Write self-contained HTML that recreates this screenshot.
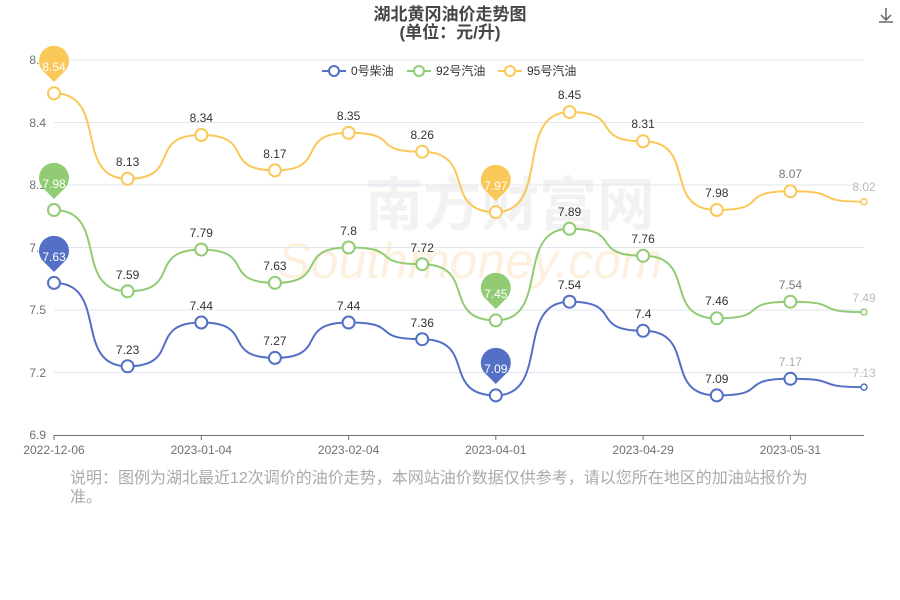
<!DOCTYPE html>
<html><head><meta charset="utf-8"><style>
body{margin:0;background:#fff;width:900px;height:600px;overflow:hidden;font-family:"Liberation Sans","Noto Sans CJK SC",sans-serif}
.note{position:absolute;left:70px;top:469px;width:750px;font-size:16px;line-height:19px;color:#aaa}
</style></head><body>
<svg width="900" height="600" style="position:absolute;left:0;top:0" font-family="Liberation Sans, Noto Sans CJK SC, sans-serif">
<text x="450" y="20" text-anchor="middle" font-size="17" font-weight="bold" fill="#464646">湖北黄冈油价走势图</text>
<text x="450" y="38" text-anchor="middle" font-size="17" font-weight="bold" fill="#464646">(单位：元/升)</text>
<g stroke="#666" fill="none" stroke-width="1.5"><path d="M886 8v12M881 15l5 5 5-5M879 22h14"/></g>
<text x="510" y="225" text-anchor="middle" font-size="58" fill="#f2f2f2" font-weight="bold">南方财富网</text>
<text x="470" y="278" text-anchor="middle" font-size="50" fill="#fdf0de" font-style="italic">Southmoney.com</text>
<g stroke="#e0e6f1" stroke-width="1">
<line x1="54" x2="864" y1="60" y2="60"/><line x1="54" x2="864" y1="122.5" y2="122.5"/><line x1="54" x2="864" y1="185" y2="185"/><line x1="54" x2="864" y1="247.5" y2="247.5"/><line x1="54" x2="864" y1="310" y2="310"/><line x1="54" x2="864" y1="372.5" y2="372.5"/>
</g>
<line x1="54" x2="864" y1="435.5" y2="435.5" stroke="#6e7079"/>
<g stroke="#6e7079"><line x1="54" x2="54" y1="435" y2="440"/><line x1="201.3" x2="201.3" y1="435" y2="440"/><line x1="348.6" x2="348.6" y1="435" y2="440"/><line x1="495.8" x2="495.8" y1="435" y2="440"/><line x1="643.1" x2="643.1" y1="435" y2="440"/><line x1="790.4" x2="790.4" y1="435" y2="440"/></g>
<g font-size="12" fill="#6e7079" text-anchor="end">
<text x="46" y="439">6.9</text><text x="46" y="377">7.2</text><text x="46" y="314">7.5</text><text x="46" y="252">7.8</text><text x="46" y="189">8.1</text><text x="46" y="127">8.4</text><text x="46" y="64">8.7</text></g>
<g font-size="12" fill="#6e7079" text-anchor="middle">
<text x="54" y="454">2022-12-06</text><text x="201.3" y="454">2023-01-04</text><text x="348.6" y="454">2023-02-04</text><text x="495.8" y="454">2023-04-01</text><text x="643.1" y="454">2023-04-29</text><text x="790.4" y="454">2023-05-31</text></g>
<g font-size="12" fill="#333">
<line x1="322" x2="346" y1="71" y2="71" stroke="#5470c6" stroke-width="2"/><circle cx="334" cy="71" r="5" fill="#fff" stroke="#5470c6" stroke-width="2"/><text x="351" y="75">0号柴油</text>
<line x1="407" x2="431" y1="71" y2="71" stroke="#91cc75" stroke-width="2"/><circle cx="419" cy="71" r="5" fill="#fff" stroke="#91cc75" stroke-width="2"/><text x="436" y="75">92号汽油</text>
<line x1="498" x2="522" y1="71" y2="71" stroke="#fac858" stroke-width="2"/><circle cx="510" cy="71" r="5" fill="#fff" stroke="#fac858" stroke-width="2"/><text x="527" y="75">95号汽油</text>
</g>
<g fill="none" stroke-width="2">
<path stroke="#5470c6" d="M54 282.9 C109.2 282.9 72.4 366.3 127.6 366.3 C182.8 366.3 146 322.5 201.3 322.5 C256.5 322.5 219.7 357.9 274.9 357.9 C330.1 357.9 293.3 322.5 348.6 322.5 C403.8 322.5 367 339.2 422.2 339.2 C477.4 339.2 440.6 395.4 495.8 395.4 C551 395.4 514.2 301.7 569.5 301.7 C624.7 301.7 587.9 330.8 643.1 330.8 C698.3 330.8 661.5 395.4 716.8 395.4 C772 395.4 735.2 378.8 790.4 378.8 C845.6 378.8 808.8 387.1 864 387.1"/>
<path stroke="#91cc75" d="M54 210 C109.2 210 72.4 291.3 127.6 291.3 C182.8 291.3 146 249.6 201.3 249.6 C256.5 249.6 219.7 282.9 274.9 282.9 C330.1 282.9 293.3 247.5 348.6 247.5 C403.8 247.5 367 264.2 422.2 264.2 C477.4 264.2 440.6 320.4 495.8 320.4 C551 320.4 514.2 228.8 569.5 228.8 C624.7 228.8 587.9 255.8 643.1 255.8 C698.3 255.8 661.5 318.3 716.8 318.3 C772 318.3 735.2 301.7 790.4 301.7 C845.6 301.7 808.8 312.1 864 312.1"/>
<path stroke="#fac858" d="M54 93.3 C109.2 93.3 72.4 178.8 127.6 178.8 C182.8 178.8 146 135 201.3 135 C256.5 135 219.7 170.4 274.9 170.4 C330.1 170.4 293.3 132.9 348.6 132.9 C403.8 132.9 367 151.7 422.2 151.7 C477.4 151.7 440.6 212.1 495.8 212.1 C551 212.1 514.2 112.1 569.5 112.1 C624.7 112.1 587.9 141.3 643.1 141.3 C698.3 141.3 661.5 210 716.8 210 C772 210 735.2 191.3 790.4 191.3 C845.6 191.3 808.8 201.7 864 201.7"/>
</g>
<g fill="#fff" stroke-width="2">
<g stroke="#5470c6"><circle cx="54" cy="282.9" r="6"/><circle cx="127.6" cy="366.3" r="6"/><circle cx="201.3" cy="322.5" r="6"/><circle cx="274.9" cy="357.9" r="6"/><circle cx="348.6" cy="322.5" r="6"/><circle cx="422.2" cy="339.2" r="6"/><circle cx="495.8" cy="395.4" r="6"/><circle cx="569.5" cy="301.7" r="6"/><circle cx="643.1" cy="330.8" r="6"/><circle cx="716.8" cy="395.4" r="6"/><circle cx="790.4" cy="378.8" r="6"/><circle cx="864" cy="387.1" r="3" stroke-width="1.5"/></g>
<g stroke="#91cc75"><circle cx="54" cy="210" r="6"/><circle cx="127.6" cy="291.3" r="6"/><circle cx="201.3" cy="249.6" r="6"/><circle cx="274.9" cy="282.9" r="6"/><circle cx="348.6" cy="247.5" r="6"/><circle cx="422.2" cy="264.2" r="6"/><circle cx="495.8" cy="320.4" r="6"/><circle cx="569.5" cy="228.8" r="6"/><circle cx="643.1" cy="255.8" r="6"/><circle cx="716.8" cy="318.3" r="6"/><circle cx="790.4" cy="301.7" r="6"/><circle cx="864" cy="312.1" r="3" stroke-width="1.5"/></g>
<g stroke="#fac858"><circle cx="54" cy="93.3" r="6"/><circle cx="127.6" cy="178.8" r="6"/><circle cx="201.3" cy="135" r="6"/><circle cx="274.9" cy="170.4" r="6"/><circle cx="348.6" cy="132.9" r="6"/><circle cx="422.2" cy="151.7" r="6"/><circle cx="495.8" cy="212.1" r="6"/><circle cx="569.5" cy="112.1" r="6"/><circle cx="643.1" cy="141.3" r="6"/><circle cx="716.8" cy="210" r="6"/><circle cx="790.4" cy="191.3" r="6"/><circle cx="864" cy="201.7" r="3" stroke-width="1.5"/></g>
</g>
<g font-size="12" fill="#333" text-anchor="middle">
<text x="127.6" y="354">7.23</text><text x="201.3" y="310">7.44</text><text x="274.9" y="345">7.27</text><text x="348.6" y="310">7.44</text><text x="422.2" y="327">7.36</text><text x="569.5" y="289">7.54</text><text x="643.1" y="318">7.4</text><text x="716.8" y="383">7.09</text><text x="790.4" y="366" fill="#aaa">7.17</text><text x="864" y="377" fill="#bbb">7.13</text>
<text x="127.6" y="279">7.59</text><text x="201.3" y="237">7.79</text><text x="274.9" y="270">7.63</text><text x="348.6" y="235">7.8</text><text x="422.2" y="252">7.72</text><text x="569.5" y="216">7.89</text><text x="643.1" y="243">7.76</text><text x="716.8" y="305">7.46</text><text x="790.4" y="289" fill="#777">7.54</text><text x="864" y="302" fill="#bbb">7.49</text>
<text x="127.6" y="166">8.13</text><text x="201.3" y="122">8.34</text><text x="274.9" y="158">8.17</text><text x="348.6" y="120">8.35</text><text x="422.2" y="139">8.26</text><text x="569.5" y="99">8.45</text><text x="643.1" y="128">8.31</text><text x="716.8" y="197">7.98</text><text x="790.4" y="178" fill="#777">8.07</text><text x="864" y="191" fill="#bbb">8.02</text>
</g>
<g font-size="12" text-anchor="middle" fill="#fff">
<path d="M54 82 L44 72 A15 15 0 1 1 64 72 Z" fill="#fac858"/><text x="54" y="71">8.54</text>
<path d="M495.8 201 L485.8 191 A15 15 0 1 1 505.8 191 Z" fill="#fac858"/><text x="495.8" y="190">7.97</text>
<path d="M54 199 L44 189 A15 15 0 1 1 64 189 Z" fill="#91cc75"/><text x="54" y="188">7.98</text>
<path d="M495.8 309 L485.8 299 A15 15 0 1 1 505.8 299 Z" fill="#91cc75"/><text x="495.8" y="298">7.45</text>
<path d="M54 272 L44 262 A15 15 0 1 1 64 262 Z" fill="#5470c6"/><text x="54" y="261">7.63</text>
<path d="M495.8 384 L485.8 374 A15 15 0 1 1 505.8 374 Z" fill="#5470c6"/><text x="495.8" y="373">7.09</text>
</g>
</svg>
<div class="note">说明：图例为湖北最近12次调价的油价走势，本网站油价数据仅供参考，请以您所在地区的加油站报价为准。</div>
</body></html>
